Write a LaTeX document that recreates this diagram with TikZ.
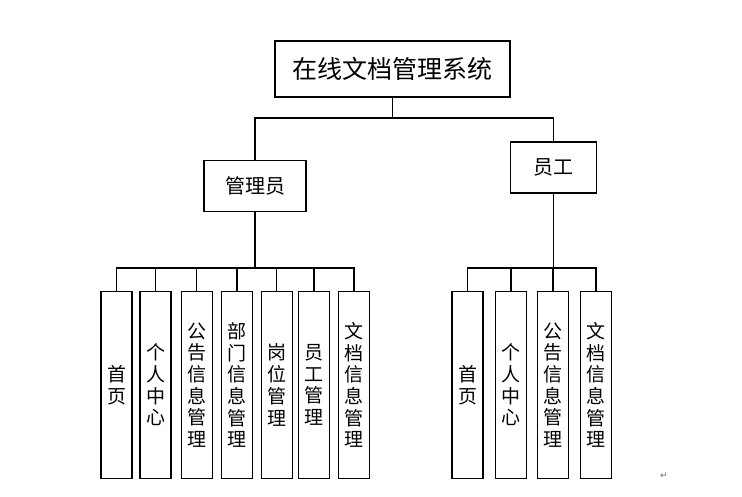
\documentclass[tikz,border=0pt]{standalone}
\usepackage{fontspec}
\usepackage{tikz}
\newfontfamily\cjk{Noto Sans CJK SC}
\newfontfamily\symfont{DejaVu Sans}

\tikzset{
    box/.style={draw, line width=1.1pt, inner sep=0pt, align=center, font=\cjk},
    leaf/.style={box, minimum width=31pt, minimum height=187pt,
        font=\cjk\fontsize{19}{21.7}\selectfont},
    link/.style={line width=1.1pt}
}

\begin{document}
\begin{tikzpicture}[x=1pt, y=-1pt]
    \useasboundingbox (0,0) rectangle (742,496);

    % Top of the tree
    \node[box, minimum width=235pt, minimum height=56pt,
        font=\cjk\fontsize{25}{30}\selectfont] (top) at (392.5,69) {在线文档管理系统};
    \node[box, minimum width=102pt, minimum height=51pt,
        font=\cjk\fontsize{20}{24}\selectfont] (admin) at (255,186) {管理员};
    \node[box, minimum width=86pt, minimum height=51pt,
        font=\cjk\fontsize{20}{24}\selectfont] (staff) at (553.5,167.5) {员工};

    \coordinate (bus0) at (392.5,118);
    \draw[link] (top.south) -- (bus0);
    \draw[link] (admin.north) |- (bus0) -| (staff.north);

    % Admin modules
    \node[leaf] (a1) at (116.5,385) {首\\页};
    \node[leaf] (a2) at (155.5,385) {个\\人\\中\\心};
    \node[leaf] (a3) at (196.7,385) {公\\告\\信\\息\\管\\理};
    \node[leaf] (a4) at (237,385) {部\\门\\信\\息\\管\\理};
    \node[leaf] (a5) at (276.7,385) {岗\\位\\管\\理};
    \node[leaf] (a6) at (314,385) {员\\工\\管\\理};
    \node[leaf] (a7) at (354,385) {文\\档\\信\\息\\管\\理};

    \coordinate (abus) at (255,268);
    \draw[link] (admin.south) -- (abus);
    \foreach \n in {a1,a2,a3,a4,a5,a6,a7}
        \draw[link] (abus) -| (\n.north);

    % Staff modules
    \node[leaf] (s1) at (467.5,385) {首\\页};
    \node[leaf] (s2) at (511,385) {个\\人\\中\\心};
    \node[leaf] (s3) at (553,385) {公\\告\\信\\息\\管\\理};
    \node[leaf] (s4) at (596,385) {文\\档\\信\\息\\管\\理};

    \coordinate (sbus) at (553.5,268);
    \coordinate (sthick) at (576,268);
    \draw[link] (staff.south) -- (sbus);
    \foreach \n in {s1,s2,s3,s4}
        \draw[link] (sbus) -| (\n.north);
    \draw[line width=2.4pt] (sbus) -- (sthick);

    \node[font=\symfont\fontsize{9}{10}\selectfont, text=gray!80!black] (mark) at (664,476) {↵};
\end{tikzpicture}
\end{document}
